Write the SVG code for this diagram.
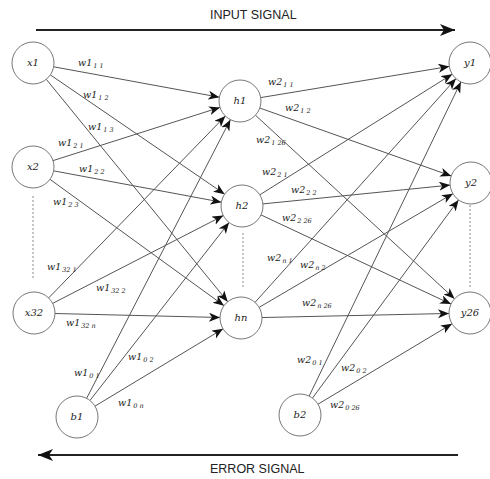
<svg xmlns="http://www.w3.org/2000/svg" width="490" height="479" viewBox="0 0 490 479">
<style>
.nd{fill:#fff;stroke:#777;stroke-width:1}
.nt{font-family:"DejaVu Serif","Liberation Serif",serif;font-style:italic;font-size:10px;fill:#222;text-anchor:middle}
.e{stroke:#555;stroke-width:1;fill:none;marker-end:url(#ah)}
.w{font-family:"DejaVu Serif","Liberation Serif",serif;font-style:italic;font-size:9.5px;fill:#222}
.s{font-size:6.5px}
.sig{font-family:"Liberation Sans","DejaVu Sans",sans-serif;font-size:12.5px;fill:#222}
.big{stroke:#222;stroke-width:2.2;fill:none}
.dot{stroke:#888;stroke-width:1;stroke-dasharray:2 2}
</style>
<defs>
<marker id="ah" markerUnits="userSpaceOnUse" markerWidth="12" markerHeight="10" refX="11" refY="4.5" orient="auto">
<path d="M0,0 L11,4.5 L0,9 L3,4.5 z" fill="#111"/>
</marker>
<marker id="bh" markerUnits="userSpaceOnUse" markerWidth="16" markerHeight="14" refX="15" refY="6" orient="auto">
<path d="M0,0 L15,6 L0,12 L4,6 z" fill="#111"/>
</marker>
</defs>

<g id="signals">
<line class="big" x1="36" y1="30" x2="455" y2="30" marker-end="url(#bh)"/>
<text class="sig" x="210" y="19">INPUT SIGNAL</text>
<line class="big" x1="458" y1="455" x2="38" y2="455" marker-end="url(#bh)"/>
<text class="sig" x="210" y="473">ERROR SIGNAL</text>
</g>

<g id="ellipsis">
<line class="dot" x1="33" y1="196" x2="33" y2="278"/>
<line class="dot" x1="243" y1="233" x2="243" y2="288"/>
<line class="dot" x1="470" y1="205" x2="470" y2="288"/>
</g>

<g id="connectors">
<line class="e" x1="53.66" y1="66.79" x2="219.34" y2="97.21"/>
<line class="e" x1="50.33" y1="74.86" x2="224.67" y2="194.14"/>
<line class="e" x1="46.27" y1="79.27" x2="227.73" y2="301.73"/>
<line class="e" x1="53.01" y1="160.62" x2="219.99" y2="107.38"/>
<line class="e" x1="53.64" y1="170.85" x2="221.36" y2="202.15"/>
<line class="e" x1="49.99" y1="179.34" x2="224.01" y2="305.66"/>
<line class="e" x1="48.63" y1="297.94" x2="225.37" y2="116.06"/>
<line class="e" x1="52.67" y1="303.39" x2="223.33" y2="215.61"/>
<line class="e" x1="54.99" y1="313.51" x2="220.01" y2="317.49"/>
<line class="e" x1="86.63" y1="398.34" x2="230.37" y2="119.66"/>
<line class="e" x1="89.94" y1="400.46" x2="229.06" y2="222.54"/>
<line class="e" x1="94.98" y1="406.15" x2="223.02" y2="328.85"/>
<line class="e" x1="260.72" y1="97.58" x2="449.28" y2="66.42"/>
<line class="e" x1="259.79" y1="108.03" x2="451.21" y2="175.97"/>
<line class="e" x1="255.44" y1="115.23" x2="454.56" y2="298.77"/>
<line class="e" x1="259.79" y1="194.84" x2="452.21" y2="74.16"/>
<line class="e" x1="262.89" y1="203.9" x2="450.11" y2="185.1"/>
<line class="e" x1="261.01" y1="214.92" x2="450.99" y2="304.08"/>
<line class="e" x1="255.03" y1="302.38" x2="455.97" y2="78.62"/>
<line class="e" x1="259.11" y1="307.37" x2="452.89" y2="193.63"/>
<line class="e" x1="262" y1="317.54" x2="449" y2="313.46"/>
<line class="e" x1="309.13" y1="396.09" x2="460.87" y2="81.91"/>
<line class="e" x1="312.46" y1="398.1" x2="458.54" y2="199.9"/>
<line class="e" x1="318.01" y1="404.2" x2="451.99" y2="323.8"/>
</g>

<g id="weights">
<text class="w" x="78" y="66">w1<tspan class="s" dx="1" dy="2">1 1</tspan></text>
<text class="w" x="83" y="98">w1<tspan class="s" dx="1" dy="2">1 2</tspan></text>
<text class="w" x="88" y="130">w1<tspan class="s" dx="1" dy="2">1 3</tspan></text>
<text class="w" x="58" y="146">w1<tspan class="s" dx="1" dy="2">2 1</tspan></text>
<text class="w" x="79" y="172">w1<tspan class="s" dx="1" dy="2">2 2</tspan></text>
<text class="w" x="53" y="205">w1<tspan class="s" dx="1" dy="2">2 3</tspan></text>
<text class="w" x="47" y="270">w1<tspan class="s" dx="1" dy="2">32 1</tspan></text>
<text class="w" x="96" y="291">w1<tspan class="s" dx="1" dy="2">32 2</tspan></text>
<text class="w" x="66" y="326">w1<tspan class="s" dx="1" dy="2">32 n</tspan></text>
<text class="w" x="74" y="376">w1<tspan class="s" dx="1" dy="2">0 1</tspan></text>
<text class="w" x="128" y="360">w1<tspan class="s" dx="1" dy="2">0 2</tspan></text>
<text class="w" x="118" y="406">w1<tspan class="s" dx="1" dy="2">0 n</tspan></text>
<text class="w" x="268" y="85">w2<tspan class="s" dx="1" dy="2">1 1</tspan></text>
<text class="w" x="285" y="111">w2<tspan class="s" dx="1" dy="2">1 2</tspan></text>
<text class="w" x="256" y="143">w2<tspan class="s" dx="1" dy="2">1 26</tspan></text>
<text class="w" x="262" y="175">w2<tspan class="s" dx="1" dy="2">2 1</tspan></text>
<text class="w" x="291" y="193">w2<tspan class="s" dx="1" dy="2">2 2</tspan></text>
<text class="w" x="282" y="221">w2<tspan class="s" dx="1" dy="2">2 26</tspan></text>
<text class="w" x="267" y="261">w2<tspan class="s" dx="1" dy="2">n 1</tspan></text>
<text class="w" x="300" y="268">w2<tspan class="s" dx="1" dy="2">n 2</tspan></text>
<text class="w" x="302" y="306">w2<tspan class="s" dx="1" dy="2">n 26</tspan></text>
<text class="w" x="297" y="363">w2<tspan class="s" dx="1" dy="2">0 1</tspan></text>
<text class="w" x="341" y="371">w2<tspan class="s" dx="1" dy="2">0 2</tspan></text>
<text class="w" x="330" y="408">w2<tspan class="s" dx="1" dy="2">0 26</tspan></text>
</g>

<g id="x1"><circle class="nd" cx="33" cy="63" r="21"/><text class="nt" x="33" y="66">x1</text></g>
<g id="x2"><circle class="nd" cx="33" cy="167" r="21"/><text class="nt" x="33" y="170">x2</text></g>
<g id="x32"><circle class="nd" cx="34" cy="313" r="21"/><text class="nt" x="34" y="316">x32</text></g>
<g id="b1"><circle class="nd" cx="77" cy="417" r="21"/><text class="nt" x="77" y="420">b1</text></g>
<g id="h1"><circle class="nd" cx="240" cy="101" r="21"/><text class="nt" x="240" y="104">h1</text></g>
<g id="h2"><circle class="nd" cx="242" cy="206" r="21"/><text class="nt" x="242" y="209">h2</text></g>
<g id="hn"><circle class="nd" cx="241" cy="318" r="21"/><text class="nt" x="241" y="321">hn</text></g>
<g id="y1"><circle class="nd" cx="470" cy="63" r="21"/><text class="nt" x="470" y="66">y1</text></g>
<g id="y2"><circle class="nd" cx="471" cy="183" r="21"/><text class="nt" x="471" y="186">y2</text></g>
<g id="y26"><circle class="nd" cx="470" cy="313" r="21"/><text class="nt" x="470" y="316">y26</text></g>
<g id="b2"><circle class="nd" cx="300" cy="415" r="21"/><text class="nt" x="300" y="418">b2</text></g>
</svg>
